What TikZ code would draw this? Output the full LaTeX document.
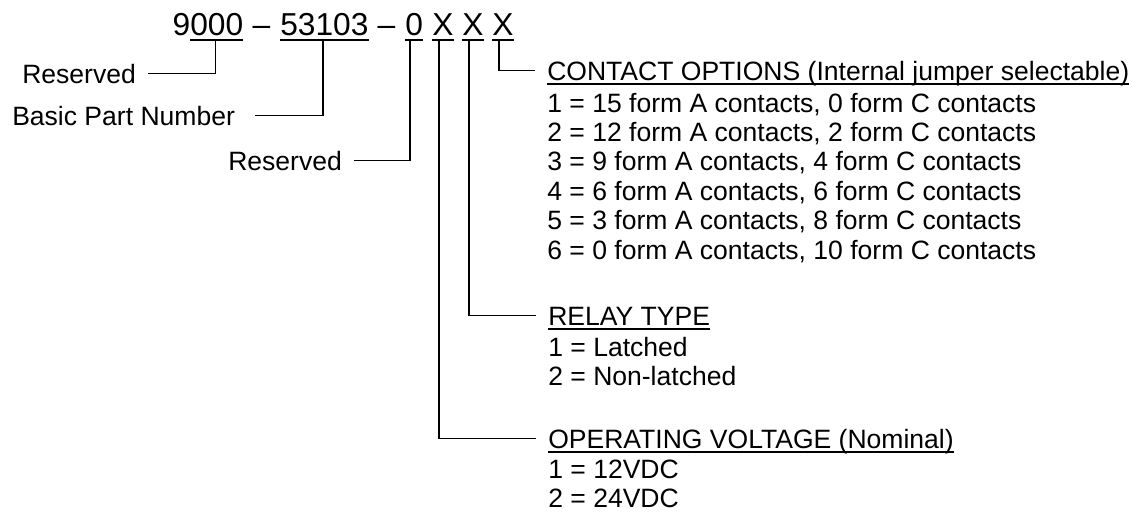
\documentclass[tikz,border=0pt]{standalone}
\usepackage{fontspec}
\setmainfont{Liberation Sans}
\tikzset{
  partno/.style={font=\fontsize{23.8}{28}\selectfont, inner xsep=0pt, inner ysep=3.4pt, text depth=0pt, anchor=base west},
  note/.style={font=\fontsize{19.9}{23}\selectfont, inner xsep=0pt, inner ysep=0pt, text height=14.3pt, text depth=0pt, anchor=base west},
  heading/.style={note, inner ysep=3pt},
  link/.style={line width=1.3pt, shorten >=9pt},
  uline/.style={line width=1.7pt},
}
\begin{document}
\begin{tikzpicture}[x=0.75pt, y=-0.75pt]
\useasboundingbox (0,0) rectangle (1137,512);
% part number
\node[partno] (p9) at (172.4,35) {9};
\node[partno] (p000) at (190,35) {000};
\node[partno, anchor=base] (pd1) at (261.5,35) {–};
\node[partno] (p53103) at (280,35) {53103};
\node[partno, anchor=base] (pd2) at (386.5,35) {–};
\node[partno] (p0) at (405,35) {0};
\node[partno] (pX1) at (432,35) {X};
\node[partno] (pX2) at (462,35) {X};
\node[partno] (pX3) at (492,35) {X};
\foreach \n in {p000,p53103,p0,pX1,pX2,pX3}
  \draw[uline] (\n.south west) -- (\n.south east);
% left side
\node[note] (resA) at (22,83) {Reserved};
\node[note] (basic) at (12,125) {Basic Part Number};
\node[note] (resB) at (228,170) {Reserved};
\draw[link] ([xshift=-1pt]p000.south) |- (resA);
\draw[link, shorten >=15pt] ([xshift=-1pt]p53103.south) |- (basic);
\draw[link] ([xshift=-3pt]p0.south) |- (resB);
% contact options
\node[heading] (contact) at (547,80) {CONTACT OPTIONS (Internal jumper selectable)};
\draw[uline] (contact.south west) -- (contact.south east);
\foreach \t [count=\i] in {{1 = 15 form A contacts, 0 form C contacts},
    {2 = 12 form A contacts, 2 form C contacts},
    {3 = 9 form A contacts, 4 form C contacts},
    {4 = 6 form A contacts, 6 form C contacts},
    {5 = 3 form A contacts, 8 form C contacts},
    {6 = 0 form A contacts, 10 form C contacts}}
  \node[note] (c\i) at (547,{82.6+29.4*\i}) {\t};
\draw[link] ([xshift=-3pt]pX3.south) |- (contact);
% relay type
\node[heading] (relay) at (548,325) {RELAY TYPE};
\draw[uline] (relay.south west) -- (relay.south east);
\node[note] (r1) at (548,356) {1 = Latched};
\node[note] (r2) at (548,385) {2 = Non-latched};
\draw[link] ([xshift=-3pt]pX2.south) |- (relay);
% operating voltage
\node[heading] (volt) at (548,448) {OPERATING VOLTAGE (Nominal)};
\draw[uline] (volt.south west) -- (volt.south east);
\node[note] (v1) at (548,478) {1 = 12VDC};
\node[note] (v2) at (548,507) {2 = 24VDC};
\draw[link] ([xshift=-3pt]pX1.south) |- (volt);
\end{tikzpicture}
\end{document}
